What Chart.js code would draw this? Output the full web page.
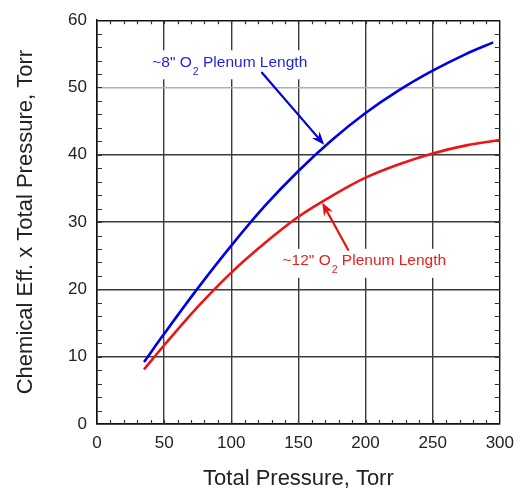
<!DOCTYPE html>
<html><head><meta charset="utf-8">
<script src="https://cdn.jsdelivr.net/npm/chart.js@4.4.1/dist/chart.umd.min.js"></script>
<style>html,body{margin:0;padding:0;background:#fff;}</style>
</head><body>
<canvas id="c" width="523" height="492"></canvas>
<script>
// ---- data ----
const blueX = [35, 50, 75, 100, 125, 150, 175, 200, 225, 250, 275, 295];
const blueY = [9.2, 13.4, 20.15, 26.5, 32.4, 37.6, 42.2, 46.2, 49.6, 52.5, 55.0, 56.7];
const redX  = [35, 50, 75, 100, 125, 150, 175, 200, 225, 250, 275, 300];
const redY  = [8.1, 11.7, 17.4, 22.5, 26.9, 30.8, 33.9, 36.6, 38.6, 40.2, 41.4, 42.2];
const xTickValues = [0, 50, 100, 150, 200, 250, 300];
const yTickValues = [0, 10, 20, 30, 40, 50, 60];
const blueLabelParts = ['~8" O', '2', ' Plenum Length'];
const redLabelParts  = ['~12" O', '2', ' Plenum Length'];
const xTitle = 'Total Pressure, Torr';
const yTitle = 'Chemical Eff. x Total Pressure, Torr';

// ---- annotation anchors (data coordinates) ----
const annotations = [
  { parts: blueLabelParts, color: '#1f1fe0', lineColor: '#0000dd', textX: 41.2, textY: 53.9,
    arrowFrom: [122.9, 52.2], arrowTo: [169.2, 41.5] },
  { parts: redLabelParts, color: '#e82020', lineColor: '#e81010', textX: 138.2, textY: 24.4,
    arrowFrom: [187.0, 25.9], arrowTo: [167.7, 32.9] }
];

const FONT = '"Liberation Sans", Arial, Helvetica, sans-serif';

function toPts(xs, ys){ return xs.map((v,i)=>({x:v, y:ys[i]})); }

const decor = {
  id: 'decor',
  beforeDatasetsDraw(chart){
    const {ctx, chartArea:a, scales:{x, y}} = chart;
    ctx.save();
    // minor inward ticks
    ctx.strokeStyle = '#333'; ctx.lineWidth = 1.2;
    ctx.beginPath();
    for (let v = 10; v < 300; v += 10) {
      const px = Math.round(x.getPixelForValue(v)) + 0.5;
      ctx.moveTo(px, a.bottom); ctx.lineTo(px, a.bottom - 4);
      ctx.moveTo(px, a.top); ctx.lineTo(px, a.top + 4);
    }
    for (let v = 2; v < 60; v += 2) {
      const py = Math.round(y.getPixelForValue(v)) + 0.5;
      ctx.moveTo(a.left, py); ctx.lineTo(a.left + 5, py);
      ctx.moveTo(a.right, py); ctx.lineTo(a.right - 5, py);
    }
    ctx.stroke();

    // annotations
    const fs = 15.5, sfs = 10.5;
    annotations.forEach(an => {
      const lx = x.getPixelForValue(an.textX);
      const cy = y.getPixelForValue(an.textY);
      const base = cy + fs * 0.36;
      ctx.font = fs + 'px ' + FONT;
      const w0 = ctx.measureText(an.parts[0]).width;
      const w2 = ctx.measureText(an.parts[2]).width;
      ctx.font = sfs + 'px ' + FONT;
      const w1 = ctx.measureText(an.parts[1]).width;
      const total = w0 + w1 + w2;
      ctx.fillStyle = '#fff';
      ctx.fillRect(lx - 4, cy - 11, total + 9, 29);
      ctx.fillStyle = an.color;
      ctx.textBaseline = 'alphabetic'; ctx.textAlign = 'left';
      ctx.font = fs + 'px ' + FONT;
      ctx.fillText(an.parts[0], lx, base);
      ctx.font = sfs + 'px ' + FONT;
      ctx.fillText(an.parts[1], lx + w0 + 1, base + 8);
      ctx.font = fs + 'px ' + FONT;
      ctx.fillText(an.parts[2], lx + w0 + w1 + 1, base);

      // arrow
      const x0 = x.getPixelForValue(an.arrowFrom[0]), y0 = y.getPixelForValue(an.arrowFrom[1]);
      const x1 = x.getPixelForValue(an.arrowTo[0]), y1 = y.getPixelForValue(an.arrowTo[1]);
      const ang = Math.atan2(y1 - y0, x1 - x0);
      const L = 13, W = 5, notch = 9;
      ctx.strokeStyle = an.lineColor; ctx.lineWidth = 2.2; ctx.lineCap = 'round';
      ctx.beginPath();
      ctx.moveTo(x0, y0);
      ctx.lineTo(x1 - Math.cos(ang) * notch, y1 - Math.sin(ang) * notch);
      ctx.stroke();
      ctx.fillStyle = an.lineColor;
      ctx.beginPath();
      ctx.moveTo(x1, y1);
      ctx.lineTo(x1 - Math.cos(ang)*L + Math.sin(ang)*W, y1 - Math.sin(ang)*L - Math.cos(ang)*W);
      ctx.lineTo(x1 - Math.cos(ang)*notch, y1 - Math.sin(ang)*notch);
      ctx.lineTo(x1 - Math.cos(ang)*L - Math.sin(ang)*W, y1 - Math.sin(ang)*L + Math.cos(ang)*W);
      ctx.closePath();
      ctx.fill();
    });
    ctx.restore();
  }
};

new Chart(document.getElementById('c'), {
  type: 'scatter',
  data: {
    datasets: [
      { label: '~8" O2 Plenum Length', data: toPts(blueX, blueY), showLine: true,
        borderColor: '#0000e6', borderWidth: 2.6, pointRadius: 0, tension: 0.35, fill: false },
      { label: '~12" O2 Plenum Length', data: toPts(redX, redY), showLine: true,
        borderColor: '#ec1414', borderWidth: 2.6, pointRadius: 0, tension: 0.35, fill: false }
    ]
  },
  options: {
    responsive: false,
    animation: false,
    devicePixelRatio: 1,
    layout: { padding: { left: 0, right: 20, top: 18, bottom: 0 } },
    plugins: { legend: { display: false }, tooltip: { enabled: false } },
    scales: {
      x: {
        type: 'linear', min: 0, max: 300,
        afterBuildTicks(s){ s.ticks = xTickValues.map(v => ({value: v})); },
        afterFit(s){ s.height = 68; },
        ticks: { padding: 9, color: '#222', font: { family: FONT, size: 17 }, maxRotation: 0, autoSkip: false },
        grid: { drawTicks: false, lineWidth: 1.4,
          color: c => (c.tick && (c.tick.value === 300 || c.tick.value === 0)) ? '#111' : '#3a3a3a' },
        border: { color: '#111', width: 1.5 },
        title: { display: true, text: xTitle, color: '#222', font: { family: FONT, size: 22 }, padding: { top: 0, bottom: 0 } }
      },
      y: {
        type: 'linear', min: 0, max: 60,
        afterBuildTicks(s){ s.ticks = yTickValues.map(v => ({value: v})); },
        afterFit(s){ s.width = 97; },
        ticks: { padding: 10, color: '#222', font: { family: FONT, size: 17 }, autoSkip: false },
        grid: { drawTicks: false, lineWidth: 1.4,
          color: c => {
            const v = c.tick && c.tick.value;
            if (v === 50) return '#b0b0b0';
            if (v === 60 || v === 0) return '#111';
            return '#3a3a3a';
          } },
        border: { color: '#111', width: 1.5 },
        title: { display: true, text: yTitle, color: '#222', font: { family: FONT, size: 22 }, padding: { top: 13, bottom: 0 } }
      }
    }
  },
  plugins: [decor]
});
</script>
</body></html>
